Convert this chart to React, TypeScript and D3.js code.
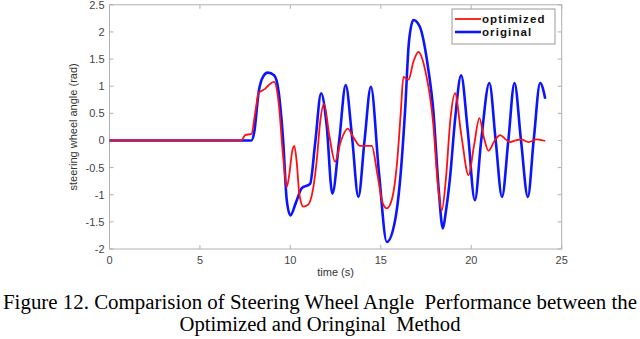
import { useEffect, useRef } from 'react';
import * as d3 from 'd3';

// time (s), steering wheel angle (rad)
const optimized: [number, number][] = [
  [0, 0], [7.3, 0], [7.5, 0.1], [7.85, 0.12], [8.05, 0.5], [8.25, 0.88], [8.6, 0.95], [8.9, 1.05],
  [9.1, 1.08], [9.35, 0.7], [9.6, -0.3], [9.8, -0.86], [9.95, -0.6], [10.1, -0.2], [10.22, -0.1],
  [10.35, -0.4], [10.5, -1.0], [10.72, -1.22], [10.96, -1.19], [11.25, -0.9], [11.46, -0.36],
  [11.65, 0.35], [11.86, 0.68], [12.15, 0.1], [12.47, -0.39], [12.8, 0], [13.17, 0.22], [13.5, 0.05],
  [13.86, -0.1], [14.5, -0.1], [14.8, -0.6], [15.1, -1.15], [15.33, -1.25], [15.6, -1.1], [15.9, -0.4],
  [16.1, 0.5], [16.25, 1.17], [16.53, 1.12], [16.8, 1.45], [17.08, 1.63], [17.45, 1.3], [17.9, 0.3],
  [18.15, -0.8], [18.37, -1.29], [18.6, -0.7], [18.85, 0.4], [19.1, 0.87], [19.45, 0.1], [19.85, -0.64],
  [20.15, -0.1], [20.45, 0.41], [20.7, 0.05], [20.95, -0.19], [21.3, 0], [21.6, 0.1], [21.9, 0.02],
  [22.15, -0.03], [22.45, 0], [22.76, 0.02], [23.16, -0.03], [23.63, 0.02], [24.09, -0.01],
];

const original: [number, number][] = [
  [0, 0], [7.85, 0], [8.0, 0.15], [8.25, 0.9], [8.5, 1.18], [8.75, 1.25], [9.1, 1.2], [9.35, 0.9],
  [9.6, 0], [9.8, -1.1], [10.0, -1.38], [10.3, -1.15], [10.63, -0.88], [11.09, -0.8], [11.37, -0.05],
  [11.7, 0.87], [12.0, 0.3], [12.32, -0.98], [12.7, 0], [13.06, 1.02], [13.4, 0.1], [13.76, -1.04],
  [14.1, 0], [14.45, 0.99], [14.9, -0.6], [15.33, -1.87], [15.8, -1.45], [16.1, -0.6], [16.35, 0.6],
  [16.55, 1.8], [16.8, 2.22], [17.15, 2.1], [17.63, 1.3], [17.9, 0.56], [18.19, -0.86], [18.43, -1.62],
  [18.6, -1.3], [18.83, -0.67], [19.1, 0.37], [19.44, 1.2], [19.8, 0.2], [20.2, -1.1], [20.55, 0],
  [21.0, 1.06], [21.35, 0], [21.7, -1.04], [22.05, 0], [22.39, 1.06], [22.75, 0], [23.13, -1.04],
  [23.45, 0], [23.81, 1.06], [24.09, 0.77],
];

const xTicks = [0, 5, 10, 15, 20, 25];
const yTicks = [-2, -1.5, -1, -0.5, 0, 0.5, 1, 1.5, 2, 2.5];
const seriesNames = ['optimized', 'original'];
const captionLines = [
  'Figure 12. Comparision of Steering Wheel Angle  Performance between the',
  'Optimized and Oringinal  Method',
];

const App = () => {
  const ref = useRef<SVGSVGElement>(null);

  useEffect(() => {
    const svg = d3.select(ref.current);
    svg.selectAll('*').remove();

    const x = d3.scaleLinear().domain([0, 25]).range([109.5, 561.7]);
    const y = d3.scaleLinear().domain([-2, 2.5]).range([249, 4.8]);
    const axisColor = '#b0b0b0';
    const font = 'Liberation Sans, Arial, sans-serif';

    svg.append('rect').attr('width', 640).attr('height', 339).attr('fill', '#fff');

    // box
    svg.append('rect')
      .attr('x', x(0)).attr('y', y(2.5))
      .attr('width', x(25) - x(0)).attr('height', y(-2) - y(2.5))
      .attr('fill', 'none').attr('stroke', axisColor).attr('stroke-width', 1);

    // ticks (inward, all four sides)
    xTicks.forEach(t => {
      svg.append('line').attr('x1', x(t)).attr('x2', x(t)).attr('y1', y(-2)).attr('y2', y(-2) - 4)
        .attr('stroke', axisColor);
      svg.append('line').attr('x1', x(t)).attr('x2', x(t)).attr('y1', y(2.5)).attr('y2', y(2.5) + 4)
        .attr('stroke', axisColor);
      svg.append('text').attr('x', x(t)).attr('y', y(-2) + 15)
        .attr('text-anchor', 'middle').attr('font-family', font).attr('font-size', 11)
        .attr('fill', '#444').text(t);
    });
    yTicks.forEach(t => {
      svg.append('line').attr('x1', x(0)).attr('x2', x(0) + 4).attr('y1', y(t)).attr('y2', y(t))
        .attr('stroke', axisColor);
      svg.append('line').attr('x1', x(25)).attr('x2', x(25) - 4).attr('y1', y(t)).attr('y2', y(t))
        .attr('stroke', axisColor);
      svg.append('text').attr('x', x(0) - 5).attr('y', y(t) + 4)
        .attr('text-anchor', 'end').attr('font-family', font).attr('font-size', 11)
        .attr('fill', '#444').text(t);
    });

    svg.append('text')
      .attr('x', x(12.5)).attr('y', 276)
      .attr('text-anchor', 'middle').attr('font-family', font).attr('font-size', 11)
      .attr('fill', '#333').text('time (s)');
    svg.append('text')
      .attr('transform', `translate(77, ${y(0.25)}) rotate(-90)`)
      .attr('text-anchor', 'middle').attr('font-family', font).attr('font-size', 11)
      .attr('fill', '#333').text('steering wheel angle (rad)');

    const line = d3.line<[number, number]>()
      .x(d => x(d[0]))
      .y(d => y(d[1]))
      .curve(d3.curveMonotoneX);

    svg.append('path').datum(original)
      .attr('fill', 'none').attr('stroke', '#0a14ff').attr('stroke-width', 2.6)
      .attr('stroke-linejoin', 'round').attr('d', line);
    svg.append('path').datum(optimized)
      .attr('fill', 'none').attr('stroke', '#ff1010').attr('stroke-width', 1.8)
      .attr('stroke-linejoin', 'round').attr('d', line);

    // legend
    const lg = svg.append('g');
    lg.append('rect').attr('x', 452).attr('y', 9).attr('width', 103).attr('height', 35)
      .attr('fill', '#fff').attr('stroke', '#999');
    const colors = ['#ff1010', '#0a14ff'];
    const widths = [1.8, 2.6];
    seriesNames.forEach((name, i) => {
      const ly = 19 + i * 13;
      lg.append('line').attr('x1', 455).attr('x2', 481).attr('y1', ly).attr('y2', ly)
        .attr('stroke', colors[i]).attr('stroke-width', widths[i]);
      lg.append('text').attr('x', 482).attr('y', ly + 4)
        .attr('font-family', font).attr('font-size', 11.5).attr('font-weight', 'bold')
        .attr('letter-spacing', 1.1).attr('fill', '#111').text(name);
    });

    // caption
    const capLengths = [634, 281];
    captionLines.forEach((c, i) => {
      svg.append('text').attr('x', 320).attr('y', 309 + i * 21.5)
        .attr('text-anchor', 'middle').attr('font-family', 'Liberation Serif, Times New Roman, serif')
        .attr('font-size', 20.5).attr('fill', '#000').style('white-space', 'pre')
        .attr('textLength', capLengths[i]).attr('lengthAdjust', 'spacingAndGlyphs').text(c);
    });
  }, []);

  return (
    <svg ref={ref} width={640} height={339}
      style={{ position: 'absolute', left: 0, top: 0, display: 'block' }} />
  );
};

export default App;
